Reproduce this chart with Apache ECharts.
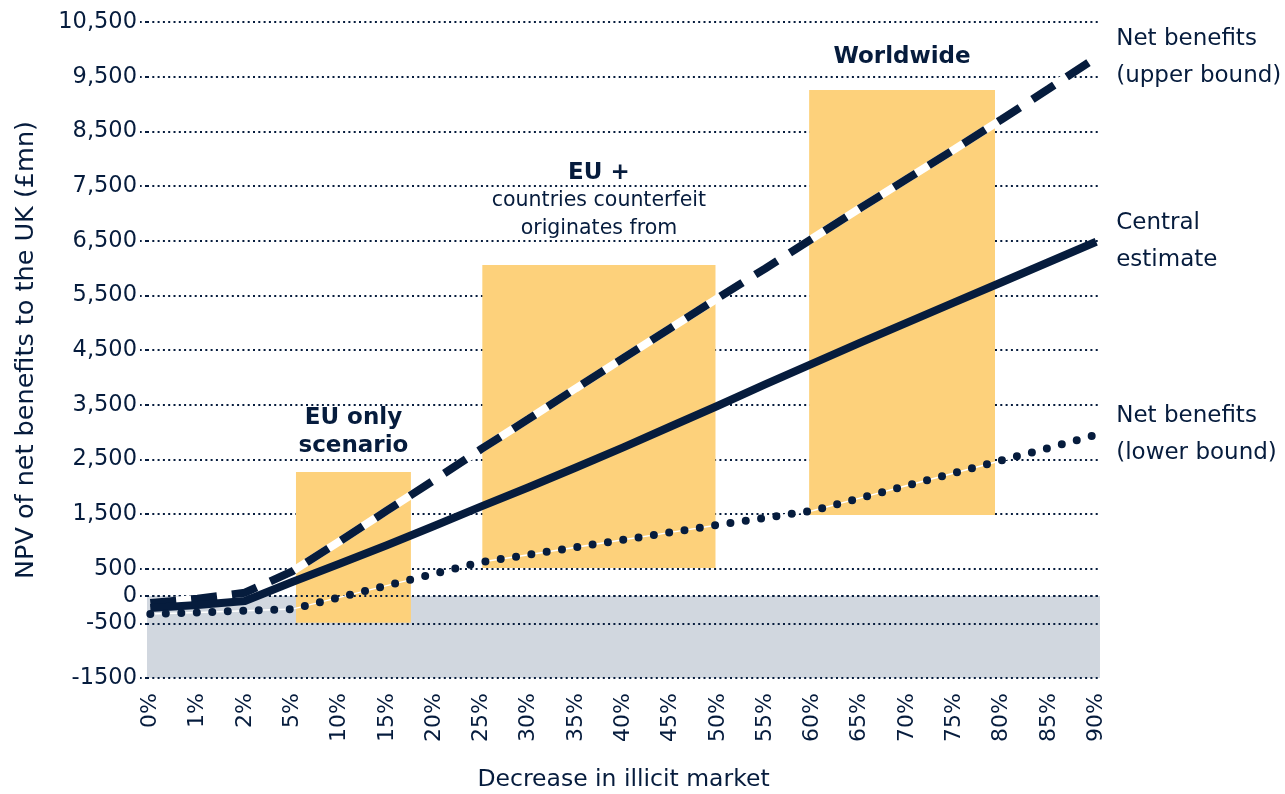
<!DOCTYPE html>
<html lang="en">

<head>
    <meta charset="UTF-8">
    <title>NPV of net benefits</title>
    <script src="https://cdn.jsdelivr.net/npm/echarts@6/dist/echarts.min.js"></script>
    <style>
        * {
            padding: 0;
            margin: 0;
        }

        #chart {
            width: 1285px;
            height: 794px;
            background: #fff;
        }
    </style>
</head>

<body>
    <div id="chart"></div>
</body>
<script>
    // x categories (decrease in illicit market)
    var categories = ['0%', '1%', '2%', '5%', '10%', '15%', '20%', '25%', '30%', '35%', '40%',
        '45%', '50%', '55%', '60%', '65%', '70%', '75%', '80%', '85%', '90%'];
    // NPV values, £mn
    var upperBound = [-130, -50, 60, 450, 1000, 1560, 2120, 2690, 3240, 3800, 4350,
        4900, 5450, 5990, 6540, 7090, 7630, 8170, 8720, 9280, 9850];
    var central = [-220, -165, -90, 255, 590, 930, 1280, 1640, 1990, 2350, 2720,
        3100, 3480, 3870, 4250, 4630, 5000, 5370, 5740, 6110, 6480];
    var lowerBound = [-330, -300, -270, -240, -25, 190, 405, 620, 756, 892, 1028,
        1164, 1300, 1430, 1560, 1790, 2020, 2250, 2480, 2710, 2950];
    var seriesNames = ['Net benefits\n(upper bound)', 'Central\nestimate', 'Net benefits\n(lower bound)'];
    // y ticks that carry a label and a grid line
    var yTickValues = [-1500, -500, 0, 500, 1500, 2500, 3500, 4500, 5500, 6500, 7500, 8500, 9500, 10500];
    var yTickLabels = ['-1500', '-500', '0', '500', '1,500', '2,500', '3,500', '4,500', '5,500',
        '6,500', '7,500', '8,500', '9,500', '10,500'];
    // scenario boxes: [x from, x to] in category index, [y bottom, y top]
    var scenarioX = [[3.08, 5.51], [7.02, 11.95], [13.93, 17.86]];
    var scenarioY = [[-490, 2270], [510, 6055], [1480, 9255]];
    var negativeBand = [-1500, 0];

    window.onload = function () {
        var navy = '#061c3d';
        var font = 'DejaVu Sans';
        var chart = echarts.init(document.getElementById('chart'));

        var idx = categories.map(function (c, i) { return i; });
        function pairs(arr) {
            return arr.map(function (v, i) { return [i, v]; });
        }

        // labels sitting above each box
        var boxLabels = [
            { text: '{b|EU only}\n{b|scenario}', distance: 12 },
            { text: '{b|EU +}\n{n|countries counterfeit}\n{n|originates from}', distance: 22 },
            { text: '{b|Worldwide}', distance: 19 }
        ];
        var boxes = scenarioX.map(function (sx, i) {
            return [{
                xAxis: sx[0], yAxis: scenarioY[i][1],
                label: {
                    show: true, position: 'top', distance: boxLabels[i].distance,
                    formatter: boxLabels[i].text,
                    rich: {
                        b: { fontFamily: font, fontWeight: 'bold', fontSize: 23, lineHeight: 28, color: navy },
                        n: { fontFamily: font, fontSize: 20.5, lineHeight: 28, color: navy }
                    }
                }
            }, { xAxis: sx[1], yAxis: scenarioY[i][0] }];
        });

        var endLabel = function (name) {
            return {
                show: true, distance: 20, formatter: name, color: navy,
                fontFamily: font, fontSize: 23, lineHeight: 37, align: 'left'
            };
        };
        var dotted = { type: [2, 3.3], width: 2, color: navy };

        var option = {
            animation: false,
            grid: { left: 147, right: 185, top: 22, bottom: 116, outerBoundsMode: 'none' },
            xAxis: {
                type: 'value', min: -0.07, max: 20.08,
                axisLine: { show: false, onZero: false },
                axisTick: { show: false },
                splitLine: { show: false },
                axisLabel: {
                    customValues: idx, rotate: 90, margin: 15, color: navy,
                    fontFamily: font, fontSize: 22,
                    formatter: function (v) { return categories[v]; }
                },
                name: 'Decrease in illicit market', nameLocation: 'middle', nameGap: 90,
                nameTextStyle: { fontFamily: font, fontSize: 23.5, color: navy }
            },
            yAxis: {
                type: 'value', min: -1500, max: 10500,
                axisLine: { show: false, onZero: false },
                axisTick: { show: true, customValues: yTickValues, length: 7, lineStyle: dotted },
                axisLabel: {
                    customValues: yTickValues, margin: 10, color: navy,
                    fontFamily: font, fontSize: 22.5,
                    formatter: function (v) { return yTickLabels[yTickValues.indexOf(v)]; }
                },
                splitLine: { show: true, lineStyle: dotted },
                name: 'NPV of net benefits to the UK (£mn)', nameLocation: 'middle', nameGap: 108,
                nameTextStyle: { fontFamily: font, fontSize: 25.5, color: navy }
            },
            series: [
                // grey band below zero, under the grid lines
                {
                    type: 'line', data: [], silent: true,
                    markArea: {
                        z: -1, silent: true,
                        itemStyle: { color: '#d1d7df' },
                        data: [[{ yAxis: negativeBand[1] }, { yAxis: negativeBand[0] }]]
                    }
                },
                // scenario boxes + zero line on top of them
                {
                    type: 'line', data: [], silent: true,
                    markArea: { silent: true, itemStyle: { color: '#fdd17b' }, data: boxes },
                    markLine: {
                        z: 1, silent: true, symbol: 'none', label: { show: false },
                        lineStyle: dotted, data: [{ yAxis: 0 }]
                    }
                },
                // white under the dashes
                {
                    type: 'line', data: pairs(upperBound), symbol: 'none', silent: true,
                    lineStyle: { color: '#fff', width: 8 }
                },
                {
                    name: seriesNames[0], type: 'line', data: pairs(upperBound), symbol: 'none',
                    lineStyle: { color: navy, width: 8, type: [26, 15], cap: 'butt' },
                    endLabel: endLabel(seriesNames[0])
                },
                {
                    name: seriesNames[1], type: 'line', data: pairs(central), symbol: 'none',
                    lineStyle: { color: navy, width: 8, join: 'round' },
                    endLabel: endLabel(seriesNames[1])
                },
                // thin white thread between the dots
                {
                    type: 'line', data: pairs(lowerBound), symbol: 'none', silent: true,
                    lineStyle: { color: '#fff', width: 1.5 }
                },
                {
                    name: seriesNames[2], type: 'line', data: pairs(lowerBound), symbol: 'none',
                    lineStyle: { color: navy, width: 8, type: [0, 15.5], cap: 'round' },
                    endLabel: endLabel(seriesNames[2])
                }
            ]
        };
        chart.setOption(option);
    }
</script>
</html>
